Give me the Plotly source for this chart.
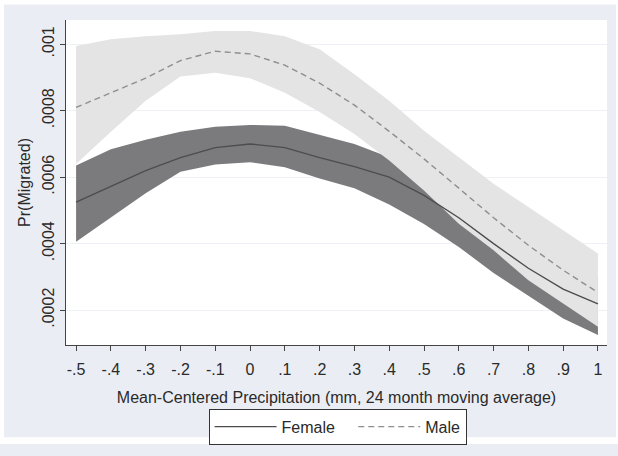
import plotly.graph_objects as go

x = [-0.5, -0.4, -0.3, -0.2, -0.1, 0.0, 0.1, 0.2, 0.3, 0.4, 0.5, 0.6, 0.7, 0.8, 0.9, 1.0]

female_mean = [0.000525, 0.000572, 0.000620, 0.000659, 0.000689, 0.000700, 0.000689, 0.000659,
               0.000632, 0.000600, 0.000545, 0.000478, 0.000400, 0.000326, 0.000263, 0.000219]
female_upper = [0.000635, 0.000684, 0.000713, 0.000737, 0.000752, 0.000757, 0.000755, 0.000728,
                0.000700, 0.000660, 0.000600, 0.000540, 0.000470, 0.000400, 0.000340, 0.000300]
female_lower = [0.000406, 0.000479, 0.000552, 0.000616, 0.000638, 0.000645, 0.000630, 0.000596,
                0.000567, 0.000518, 0.000459, 0.000390, 0.000312, 0.000243, 0.000175, 0.000125]

male_mean = [0.000810, 0.000854, 0.000898, 0.000951, 0.000979, 0.000971, 0.000937, 0.000883,
             0.000817, 0.000738, 0.000655, 0.000567, 0.000478, 0.000395, 0.000320, 0.000253]
male_upper = [0.000995, 0.001015, 0.001024, 0.001030, 0.001040, 0.001040, 0.001024, 0.000985,
              0.000910, 0.000830, 0.000740, 0.000660, 0.000580, 0.000510, 0.000440, 0.000370]
male_lower = [0.000640, 0.000737, 0.000830, 0.000903, 0.000914, 0.000898, 0.000854, 0.000796,
              0.000730, 0.000650, 0.000560, 0.000460, 0.000380, 0.000290, 0.000220, 0.000150]

x_ticks = [-0.5, -0.4, -0.3, -0.2, -0.1, 0.0, 0.1, 0.2, 0.3, 0.4, 0.5, 0.6, 0.7, 0.8, 0.9, 1.0]
x_ticktext = ["-.5", "-.4", "-.3", "-.2", "-.1", "0", ".1", ".2", ".3", ".4", ".5", ".6", ".7", ".8", ".9", "1"]
y_ticks = [0.0002, 0.0004, 0.0006, 0.0008, 0.001]
y_ticktext = [".0002", ".0004", ".0006", ".0008", ".001"]
series_names = ["Female", "Male"]

FEMALE_BAND = "#7b7b7d"
MALE_BAND = "#e4e4e4"
FEMALE_LINE = "#4d4d4f"
MALE_LINE = "#8e8e8e"
BG = "#eaeef4"
FONT = "Liberation Sans, Arial, sans-serif"
TXT = "#2a2a2a"

fig = go.Figure()

fig.add_trace(go.Scatter(x=x, y=female_lower, mode="lines", line=dict(width=0, color=FEMALE_BAND),
                         showlegend=False, hoverinfo="skip"))
fig.add_trace(go.Scatter(x=x, y=female_upper, mode="lines", line=dict(width=0, color=FEMALE_BAND),
                         fill="tonexty", fillcolor=FEMALE_BAND, showlegend=False, hoverinfo="skip"))
fig.add_trace(go.Scatter(x=x, y=male_lower, mode="lines", line=dict(width=0, color=MALE_BAND),
                         showlegend=False, hoverinfo="skip"))
fig.add_trace(go.Scatter(x=x, y=male_upper, mode="lines", line=dict(width=0, color=MALE_BAND),
                         fill="tonexty", fillcolor=MALE_BAND, showlegend=False, hoverinfo="skip"))
fig.add_trace(go.Scatter(x=x, y=female_mean, mode="lines", name=series_names[0] + "\u00a0\u00a0\u00a0",
                         line=dict(color=FEMALE_LINE, width=1.4)))
fig.add_trace(go.Scatter(x=x, y=male_mean, mode="lines", name=series_names[1],
                         line=dict(color=MALE_LINE, width=1.4, dash="6px,4px")))

fig.update_layout(
    width=618, height=456,
    margin=dict(l=66, r=11, t=20, b=101),
    paper_bgcolor=BG,
    plot_bgcolor="white",
    font=dict(family=FONT, size=16, color=TXT),
    showlegend=True,
    legend=dict(
        orientation="h", x=0.502, xanchor="center", y=-0.196, yanchor="top",
        bgcolor="white", bordercolor="#333333", borderwidth=1,
        font=dict(size=16, color=TXT), itemwidth=62,
        traceorder="normal",
    ),
    xaxis=dict(
        range=[-0.529, 1.026], tickmode="array", tickvals=x_ticks, ticktext=x_ticktext,
        showgrid=False, zeroline=False, showline=True, linecolor="#444444", linewidth=1,
        ticks="outside", ticklen=5, tickcolor="#444444", ticklabelstandoff=5,
        tickfont=dict(size=16, color=TXT),
        title=dict(text="Mean-Centered Precipitation (mm, 24 month moving average)",
                   font=dict(size=16, color=TXT), standoff=14),
    ),
    yaxis=dict(
        range=[0.000095, 0.001073], tickmode="array", tickvals=y_ticks, ticktext=y_ticktext,
        tickangle=-90, showgrid=True, gridcolor="#edf1f5", gridwidth=1,
        zeroline=False, showline=True, linecolor="#444444", linewidth=1,
        ticks="outside", ticklen=5, tickcolor="#444444",
        tickfont=dict(size=16, color=TXT),
        title=dict(text="Pr(Migrated)", font=dict(size=16, color=TXT), standoff=4),
    ),
    shapes=[
        dict(type="rect", xref="paper", yref="paper", layer="above", line=dict(width=0), fillcolor="white",
             x0=-66 / 541, x1=-62 / 541, y0=-101 / 335, y1=355 / 335),
        dict(type="rect", xref="paper", yref="paper", layer="above", line=dict(width=0), fillcolor="white",
             x0=-66 / 541, x1=552 / 541, y0=351 / 335, y1=356 / 335),
        dict(type="rect", xref="paper", yref="paper", layer="above", line=dict(width=0), fillcolor="white",
             x0=550 / 541, x1=553 / 541, y0=-101 / 335, y1=356 / 335),
        dict(type="rect", xref="paper", yref="paper", layer="above", line=dict(width=0), fillcolor="white",
             x0=-66 / 541, x1=553 / 541, y0=-102 / 335, y1=-95 / 335),
    ],
)

fig.write_html("out.html")
